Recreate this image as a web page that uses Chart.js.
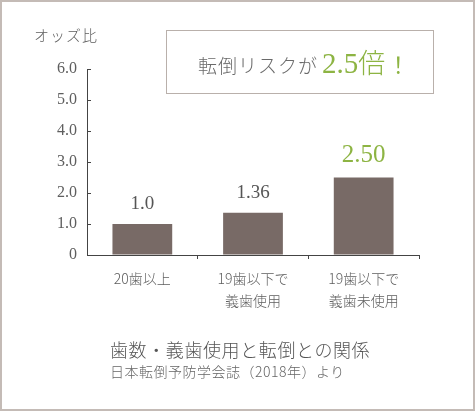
<!DOCTYPE html>
<html>
<head>
<meta charset="utf-8">
<script src="https://cdn.jsdelivr.net/npm/chart.js@4/dist/chart.umd.min.js"></script>
<style>
  html, body { margin: 0; padding: 0; background: #fff; }
  #wrap { position: relative; width: 475px; height: 411px; box-sizing: border-box; border: 2px solid #c4bbb6; overflow: hidden; }
  #myChart { position: absolute; left: -2px; top: -2px; }
  .jp { position: absolute; font-family: "Noto Sans CJK JP", sans-serif; font-weight: 300; color: #5e5e5e; white-space: nowrap; }
  #ylab { left: 32px; top: 22px; font-size: 15px; letter-spacing: 1px; }
  #box { position: absolute; left: 164px; top: 28px; width: 268px; height: 64px; box-sizing: border-box; border: 1px solid #b9b0ab; line-height: 62px; padding-left: 31px; white-space: nowrap; }
  #box .a { font-size: 19px; color: #6a6a6a; letter-spacing: 1px; font-family: "Noto Sans CJK JP", sans-serif; font-weight: 300; }
  #box .b { font-size: 29px; color: #8db443; font-family: "Liberation Serif", "DejaVu Serif", serif; margin-left: 4px; }
  #box .g { font-size: 27px; color: #8db443; font-family: "Noto Sans CJK JP", sans-serif; font-weight: 300; }
  #box .c { font-size: 22px; color: #8db443; font-family: "Noto Sans CJK JP", sans-serif; margin-left: 2px; }
  #title { left: 108px; top: 334px; font-size: 18px; letter-spacing: 0.6px; color: #555; }
  #sub { left: 108px; top: 359px; font-size: 14px; letter-spacing: 0.5px; color: #666; }
</style>
</head>
<body>
<div id="wrap">
  <canvas id="myChart" width="475" height="411"></canvas>
  <div class="jp" id="ylab">オッズ比</div>
  <div id="box"><span class="a">転倒リスクが</span><span class="b">2.5</span><span class="g">倍</span><span class="c">！</span></div>
  <div class="jp" id="title">歯数・義歯使用と転倒との関係</div>
  <div class="jp" id="sub">日本転倒予防学会誌（2018年）より</div>
</div>
<script>
let groups = [["20歯以上"], ["19歯以下で", "義歯使用"], ["19歯以下で", "義歯未使用"]]
let odds = [1.0, 1.36, 2.50]
let oddsText = ["1.0", "1.36", "2.50"]
let yTicks = [0, 1, 2, 3, 4, 5, 6]

let axisColor = "#444"

// value labels above bars
let barLabels = {
    id: "barLabels",
    afterDatasetsDraw(chart) {
        let ctx = chart.ctx
        let meta = chart.getDatasetMeta(0)
        ctx.save()
        ctx.textAlign = "center"
        ctx.textBaseline = "middle"
        meta.data.forEach((bar, i) => {
            let last = i == odds.length - 1
            ctx.fillStyle = last ? "#8db443" : "#555"
            ctx.font = (last ? "25px" : "19px") + " 'Liberation Serif', serif"
            ctx.fillText(oddsText[i], bar.x, bar.y - (last ? 22 : 20))
        })
        ctx.restore()
    }
}

new Chart("myChart", {
    type: "bar",
    data: {
        labels: groups,
        datasets: [{
            data: odds,
            backgroundColor: "#786a66",
            barPercentage: 0.54,
            categoryPercentage: 1.0
        }]
    },
    options: {
        responsive: false,
        animation: false,
        devicePixelRatio: 1,
        layout: { padding: { left: 0, right: 56, top: 69, bottom: 0 } },
        plugins: { legend: { display: false }, tooltip: { enabled: false } },
        scales: {
            x: {
                afterFit(s) { s.height = 411 - 255 },
                border: { color: axisColor, width: 1 },
                grid: {
                    drawOnChartArea: false,
                    tickLength: 4,
                    color: c => c.index == 0 ? "rgba(0,0,0,0)" : axisColor
                },
                ticks: {
                    color: "#5e5e5e",
                    padding: 9,
                    font: { family: "'Noto Sans CJK JP', sans-serif", size: 14, weight: 300, lineHeight: 1.55 }
                }
            },
            y: {
                min: 0,
                max: 6,
                afterFit(s) { s.width = 87 },
                afterBuildTicks(s) { s.ticks = yTicks.map(v => ({ value: v })) },
                border: { color: axisColor, width: 1 },
                grid: { drawOnChartArea: false, tickLength: -4, color: axisColor },
                ticks: {
                    color: "#5e5e5e",
                    padding: 14,
                    font: { family: "'Liberation Serif', serif", size: 16 },
                    callback: v => v == 0 ? "0" : v.toFixed(1)
                }
            }
        }
    },
    plugins: [barLabels]
});
</script>
</body>
</html>
